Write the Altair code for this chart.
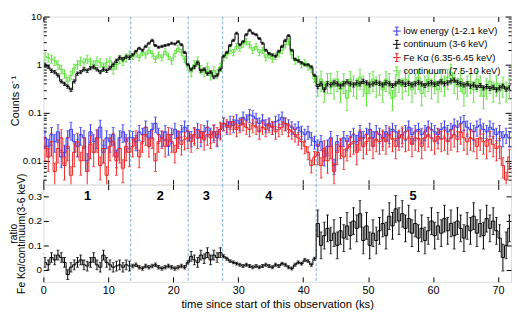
import altair as alt
import numpy as np
import pandas as pd

# ---------------- data (0.5 ks bins) ----------------
BIN_KS = 0.5
T_DOMAIN = [0, 72]

CONT_36 = [
    1.0, 0.9, 0.75, 0.7, 0.6, 0.45, 0.4, 0.35, 0.3, 0.45,
    0.65, 0.7, 0.8, 0.75, 0.85, 0.9, 0.8, 0.7, 0.8, 0.75, 0.85, 1.0,
    1.2, 1.4, 1.3, 1.45, 1.4, 1.6, 1.9, 2.2, 2.0, 2.4, 2.8, 3.2,
    2.5, 2.3, 2.4, 2.5, 2.6, 2.8, 2.7, 3.0, 2.6, 1.8, 1.0, 0.8,
    0.9, 1.1, 0.75, 0.8, 0.65, 0.7, 0.55, 0.6, 0.8, 1.5,
    1.8, 2.5, 3.2, 4.5, 2.6, 3.0, 4.2, 5.2, 4.5, 4.2, 3.5, 2.8,
    2.0, 1.7, 1.6, 1.5, 1.9, 2.4, 3.2, 4.0, 2.0, 1.3, 1.2, 1.1,
    1.0, 1.0, 0.9, 0.6, 0.35, 0.4, 0.3, 0.4,
    0.38, 0.42, 0.40, 0.36, 0.40, 0.44, 0.40, 0.38,
    0.42, 0.40, 0.45, 0.42, 0.38, 0.40, 0.43, 0.41,
    0.38, 0.42, 0.40, 0.37, 0.40, 0.44, 0.42, 0.39,
    0.41, 0.38, 0.40, 0.43, 0.40, 0.37, 0.40, 0.42,
    0.39, 0.41, 0.44, 0.40, 0.42, 0.46, 0.48, 0.43,
    0.40, 0.38, 0.40, 0.36, 0.38, 0.34, 0.37, 0.33,
    0.35, 0.32, 0.34, 0.30, 0.33, 0.36, 0.31, 0.33,
]

CONT_7510 = [
    1.5, 1.4, 1.3, 1.2, 1.0, 0.8, 0.65, 0.45, 0.6, 0.85,
    1.0, 1.2, 1.1, 1.3, 1.15, 1.0, 1.2, 1.1, 0.9, 1.1, 1.2, 0.8,
    1.0, 1.3, 1.2, 1.4, 1.6, 1.5, 1.7, 1.4, 1.8, 1.6, 2.0, 1.7,
    1.3, 1.6, 1.4, 1.9, 1.5, 1.2, 1.7, 2.2, 1.8, 1.3, 0.9, 0.7,
    1.0, 1.2, 0.8, 0.7, 0.9, 0.6, 0.75, 0.65, 0.9, 1.4,
    1.6, 2.0, 1.8, 2.4, 2.2, 2.7, 3.0, 2.6, 2.0, 2.4, 1.8, 2.0,
    1.4, 1.6, 1.3, 1.5, 1.7, 2.0, 2.6, 3.0, 1.6, 1.2, 1.3, 1.0,
    1.1, 0.9, 0.8, 0.5, 0.4, 0.5, 0.3, 0.45,
    0.45, 0.35, 0.5, 0.3, 0.45, 0.2, 0.5, 0.4,
    0.35, 0.55, 0.4, 0.25, 0.45, 0.5, 0.38, 0.42,
    0.3, 0.5, 0.45, 0.2, 0.4, 0.48, 0.35, 0.5,
    0.42, 0.3, 0.45, 0.55, 0.25, 0.4, 0.5, 0.35,
    0.45, 0.3, 0.5, 0.4, 0.55, 0.7, 0.45, 0.35,
    0.5, 0.25, 0.4, 0.45, 0.3, 0.5, 0.4, 0.22,
    0.35, 0.45, 0.3, 0.4, 0.28, 0.38, 0.3, 0.35,
]

LOW_E = [
    0.03, 0.02, 0.035, 0.025, 0.04, 0.012, 0.015, 0.03, 0.045, 0.025,
    0.02, 0.035, 0.03, 0.01, 0.04, 0.025, 0.03, 0.05, 0.015, 0.03,
    0.025, 0.035, 0.012, 0.03, 0.04, 0.025, 0.03,
    0.03, 0.025, 0.04, 0.035, 0.05, 0.03, 0.045, 0.06, 0.035, 0.03,
    0.04, 0.02, 0.035, 0.045, 0.03, 0.04, 0.05,
    0.04, 0.03, 0.035, 0.045, 0.03, 0.04, 0.05, 0.035, 0.04, 0.03, 0.045,
    0.06, 0.05, 0.065, 0.055, 0.07, 0.06, 0.08, 0.07, 0.09, 0.085,
    0.075, 0.06, 0.07, 0.055, 0.06, 0.05, 0.065, 0.07, 0.08, 0.06,
    0.055, 0.05, 0.045, 0.05, 0.04, 0.035, 0.04, 0.03, 0.025,
    0.02, 0.025, 0.012, 0.02, 0.03, 0.008, 0.025, 0.02, 0.03, 0.025,
    0.03, 0.035, 0.025, 0.04, 0.03, 0.035, 0.045, 0.03, 0.04, 0.035,
    0.03, 0.04, 0.035, 0.045, 0.04, 0.03, 0.035, 0.04, 0.05, 0.035,
    0.04, 0.045, 0.035, 0.04, 0.05, 0.045, 0.04, 0.035, 0.045, 0.05,
    0.04, 0.045, 0.055, 0.05, 0.06, 0.065, 0.05, 0.045, 0.04, 0.05,
    0.055, 0.045, 0.04, 0.05, 0.045, 0.035, 0.04, 0.03, 0.035, 0.03,
]

FE_KA = [
    0.02, 0.012, 0.025, 0.006, 0.018, 0.03, 0.008, 0.02, 0.005, 0.015,
    0.025, 0.01, 0.02, 0.006, 0.022, 0.015, 0.03, 0.008, 0.018, 0.005,
    0.02, 0.025, 0.01, 0.018, 0.007, 0.02, 0.015,
    0.02, 0.03, 0.012, 0.025, 0.035, 0.02, 0.03, 0.01, 0.025, 0.03,
    0.02, 0.035, 0.025, 0.015, 0.03, 0.022, 0.028,
    0.03, 0.025, 0.035, 0.03, 0.04, 0.028, 0.035, 0.03, 0.04, 0.035, 0.045,
    0.06, 0.055, 0.05, 0.065, 0.045, 0.055, 0.06, 0.05, 0.045, 0.055,
    0.05, 0.04, 0.05, 0.045, 0.055, 0.05, 0.04, 0.045, 0.05, 0.06,
    0.045, 0.04, 0.035, 0.03, 0.025, 0.02, 0.015, 0.008, 0.012,
    0.015, 0.008, 0.018, 0.01, 0.02, 0.006, 0.015, 0.02, 0.012, 0.018,
    0.022, 0.025, 0.015, 0.03, 0.02, 0.025, 0.03, 0.02, 0.028, 0.025,
    0.03, 0.025, 0.035, 0.028, 0.02, 0.03, 0.035, 0.028, 0.03, 0.022,
    0.03, 0.028, 0.02, 0.03, 0.035, 0.03, 0.025, 0.032, 0.028, 0.03,
    0.025, 0.03, 0.035, 0.028, 0.04, 0.03, 0.025, 0.03, 0.028, 0.02,
    0.03, 0.025, 0.02, 0.028, 0.022, 0.018, 0.02, 0.008, 0.004, 0.012,
]

RATIO = [
    0.03, 0.02, 0.05, 0.04, 0.06, 0.05, 0.03, -0.02, 0.01, 0.02,
    0.03, 0.04, 0.02, 0.015, 0.03, 0.05, 0.02, 0.01, 0.06, 0.03,
    0.02, 0.01, 0.015, 0.02, 0.01, 0.02, 0.015,
    0.015, 0.02, 0.01, 0.005, 0.015, 0.01, 0.015, 0.02, 0.01, 0.005,
    0.01, 0.015, 0.01, 0.005, 0.01, 0.015, 0.01,
    0.03, 0.055, 0.04, 0.03, 0.06, 0.045, 0.07, 0.04, 0.06, 0.05, 0.07,
    0.055, 0.045, 0.035, 0.03, 0.025, 0.02, 0.015, 0.02, 0.015, 0.01,
    0.015, 0.01, 0.015, 0.02, 0.015, 0.01, 0.02, 0.015, 0.025, 0.02,
    0.01, 0.005, 0.02, 0.03, 0.025, 0.04, 0.035, 0.02, 0.045,
    0.19, 0.1, 0.14, 0.17, 0.12, 0.15, 0.1, 0.16, 0.13, 0.18,
    0.14, 0.2, 0.17, 0.23, 0.12, 0.18, 0.1, 0.15, 0.12, 0.16,
    0.19, 0.14, 0.22, 0.18, 0.25, 0.2, 0.23, 0.17, 0.21, 0.15,
    0.19, 0.13, 0.17, 0.12, 0.16, 0.2, 0.14, 0.18, 0.15, 0.21,
    0.16, 0.19, 0.14, 0.2, 0.17, 0.13, 0.18, 0.16, 0.22, 0.15,
    0.19, 0.14, 0.21, 0.17, 0.2, 0.16, 0.13, 0.05, 0.1, 0.17,
]

# segment boundaries (ks) and labels
BOUNDS = [13.45, 22.3, 27.6, 42.0]
SEG_LABELS = ["1", "2", "3", "4", "5"]
SEG_LABEL_T = [6.8, 18.0, 25.1, 34.7, 56.9]

# error sizes per segment (relative for count rates, absolute for ratio)
REL_ERR_LOW = [0.4, 0.35, 0.35, 0.3, 0.35]
REL_ERR_36 = [0.08, 0.05, 0.07, 0.05, 0.1]
REL_ERR_FE = [0.5, 0.4, 0.4, 0.3, 0.45]
REL_ERR_7510 = [0.2, 0.15, 0.2, 0.15, 0.45]
RATIO_ERR = [0.02, 0.007, 0.02, 0.006, 0.055]

NAMES = ["low energy (1-2.1 keV)", "continuum (3-6 keV)",
         "Fe Kα (6.35-6.45 keV)", "continuum (7.5-10 keV)"]
COLORS = ["#3434ee", "#000000", "#ee2222", "#5fe03c"]

FONT = "Liberation Sans"
DASH_COLOR = "#7aaede"
W = 476
H_TOP = 171
H_BOT = 99


def seg_of(t):
    return int(sum(t > b for b in BOUNDS))


def make_frame(vals, errs, relative, name):
    t = 0.25 + BIN_KS * np.arange(len(vals))
    v = np.array(vals, dtype=float)
    e = np.array([errs[seg_of(x)] for x in t])
    if relative:
        lo, hi = v * (1 - e), v * (1 + e)
    else:
        lo, hi = v - e, v + e
    return pd.DataFrame({"t": t, "v": v, "lo": lo, "hi": hi, "series": name})


x_scale = alt.Scale(domain=T_DOMAIN, nice=False, zero=False)
y_top = alt.Scale(type="log", domain=[0.0032, 10], nice=False)
y_bot = alt.Scale(domain=[-0.05, 0.35], nice=False, zero=False)
color_scale = alt.Scale(domain=NAMES, range=COLORS)

LEGEND_SYMBOL = "M-1,0H1M0,-1V1M-0.45,-1H0.45M-0.45,1H0.45"


def series_layers(df, yscale, color, with_legend):
    base = alt.Chart(df)
    xe = alt.X("t:Q", scale=x_scale, axis=None)
    bars = base.mark_rule(strokeWidth=1, clip=True, color=color).encode(
        x=xe, y=alt.Y("lo:Q", scale=yscale, axis=None), y2="hi:Q")
    caps_lo = base.mark_tick(orient="horizontal", size=3, thickness=1,
                             clip=True, color=color).encode(
        x=xe, y=alt.Y("lo:Q", scale=yscale, axis=None))
    caps_hi = base.mark_tick(orient="horizontal", size=3, thickness=1,
                             clip=True, color=color).encode(
        x=xe, y=alt.Y("hi:Q", scale=yscale, axis=None))
    if with_legend:
        col = alt.Color("series:N", scale=color_scale, legend=alt.Legend(
            orient="top-right", title=None, symbolType=LEGEND_SYMBOL,
            symbolSize=64, symbolStrokeWidth=1, labelFontSize=9.5,
            labelFont=FONT, labelColor="black", rowPadding=0.5,
            offset=10, padding=0, labelLimit=220, labelOffset=2))
        line = base.mark_line(interpolate="step", strokeWidth=1,
                              clip=True).encode(
            x=xe, y=alt.Y("v:Q", scale=yscale, axis=None), color=col)
    else:
        line = base.mark_line(interpolate="step", strokeWidth=1, clip=True,
                              color=color).encode(
            x=xe, y=alt.Y("v:Q", scale=yscale, axis=None))
    return [bars, caps_lo, caps_hi, line]


def axis_def(orient, values, size, **extra):
    kw = dict(orient=orient, values=values, tickSize=size, offset=-size,
              domain=False, grid=False, labels=False, title=None,
              tickColor="black", labelFlush=False, labelOverlap=False,
              minExtent=0)
    kw.update(extra)
    return alt.Axis(**kw)


def carrier(df, xaxis, yaxis, yscale):
    return alt.Chart(df).mark_point(opacity=0).encode(
        x=alt.X("t:Q", scale=x_scale, axis=xaxis),
        y=alt.Y("v:Q", scale=yscale, axis=yaxis))


X_TICKS = [0, 10, 20, 30, 40, 50, 60, 70]
Y_TOP_MAJOR = [0.01, 0.1, 1, 10]
Y_TOP_MINOR = [0.004, 0.005, 0.006, 0.007, 0.008, 0.009,
               0.02, 0.03, 0.04, 0.05, 0.06, 0.07, 0.08, 0.09,
               0.2, 0.3, 0.4, 0.5, 0.6, 0.7, 0.8, 0.9,
               2, 3, 4, 5, 6, 7, 8, 9]
Y_BOT_MAJOR = [0, 0.1, 0.2, 0.3]

bounds_df = pd.DataFrame({"t": BOUNDS})
labels_df = pd.DataFrame({"t": SEG_LABEL_T, "label": SEG_LABELS})
carrier_df = pd.DataFrame({"t": [36.0], "v": [0.1]})


def dashed():
    return alt.Chart(bounds_df).mark_rule(
        color=DASH_COLOR, strokeDash=[3, 2], strokeWidth=1).encode(
        x=alt.X("t:Q", scale=x_scale, axis=None))


# ---------------- top panel ----------------
top_layers = [dashed()]
frames = [
    (make_frame(LOW_E, REL_ERR_LOW, True, NAMES[0]), COLORS[0]),
    (make_frame(FE_KA, REL_ERR_FE, True, NAMES[2]), COLORS[2]),
    (make_frame(CONT_7510, REL_ERR_7510, True, NAMES[3]), COLORS[3]),
    (make_frame(CONT_36, REL_ERR_36, True, NAMES[1]), COLORS[1]),
]
for df, c in frames:
    top_layers += series_layers(df, y_top, c, True)

top_layers += [
    carrier(carrier_df,
            axis_def("bottom", X_TICKS, 5),
            axis_def("left", Y_TOP_MAJOR, 6, labels=True, format="~g",
                     labelPadding=2, labelFontSize=10, labelFont=FONT,
                     labelColor="black", title="Counts s⁻¹",
                     titleFont=FONT, titleFontSize=11,
                     titleFontWeight="normal", titleColor="black",
                     titlePadding=2),
            y_top),
    carrier(carrier_df, axis_def("top", X_TICKS, 5),
            axis_def("left", Y_TOP_MINOR, 3), y_top),
    carrier(carrier_df, None, axis_def("right", Y_TOP_MAJOR, 6), y_top),
    carrier(carrier_df, None, axis_def("right", Y_TOP_MINOR, 3), y_top),
]

top = alt.layer(*top_layers).resolve_axis(
    x="independent", y="independent").properties(width=W, height=H_TOP)

# ---------------- bottom panel ----------------
ratio_df = make_frame(RATIO, RATIO_ERR, False, "ratio")
bot_layers = [dashed()]
bot_layers += series_layers(ratio_df, y_bot, "#000000", False)
bot_layers.append(
    alt.Chart(labels_df).mark_text(fontSize=13, fontWeight="bold",
                                   font=FONT, color="black").encode(
        x=alt.X("t:Q", scale=x_scale, axis=None),
        y=alt.value(12), text="label:N"))
bot_layers += [
    carrier(carrier_df,
            axis_def("bottom", X_TICKS, 5, labels=True, format="d",
                     labelPadding=3, labelFontSize=11, labelFont=FONT,
                     labelColor="black",
                     title="time since start of this observation (ks)",
                     titleFont=FONT, titleFontSize=11.5,
                     titleFontWeight="normal", titleColor="black",
                     titlePadding=3),
            axis_def("left", Y_BOT_MAJOR, 5, labels=True, format="~g",
                     labelPadding=2, labelFontSize=10, labelFont=FONT,
                     labelColor="black",
                     title=["ratio", "Fe Kα/continuum(3-6 keV)"],
                     titleFont=FONT, titleFontSize=10.5,
                     titleFontWeight="normal", titleColor="black",
                     titleLineHeight=8.5, titlePadding=1),
            y_bot),
    carrier(carrier_df, axis_def("top", X_TICKS, 5),
            axis_def("right", Y_BOT_MAJOR, 5), y_bot),
]

bottom = alt.layer(*bot_layers).resolve_axis(
    x="independent", y="independent").properties(width=W, height=H_BOT)

chart = alt.vconcat(top, bottom, spacing=0, bounds="flush").properties(
    padding={"left": 0, "top": 0, "right": 0, "bottom": 0}
).configure_view(stroke="black", strokeWidth=1).configure(font=FONT)

chart.save("out.html", embed_options={"renderer": "svg", "actions": False})
